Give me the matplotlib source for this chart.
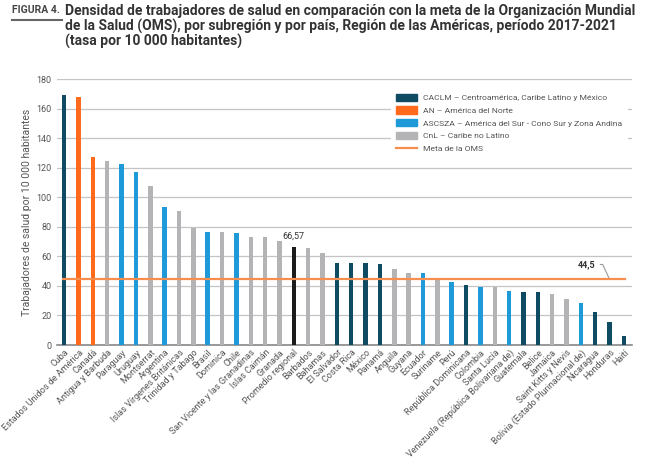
import matplotlib as mpl
mpl.use('Agg')
import matplotlib.pyplot as plt
from matplotlib.patches import Patch
from matplotlib.lines import Line2D

plt.rcParams['font.family'] = ['Roboto', 'DejaVu Sans']

countries = [
    "Cuba", "Estados Unidos de América", "Canadá", "Antigua y Barbuda", "Paraguay",
    "Uruguay", "Montserrat", "Argentina", "Islas Vírgenes Británicas", "Trinidad y Tabago",
    "Brasil", "Dominica", "Chile", "San Vicente y las Granadinas", "Islas Caimán",
    "Granada", "Promedio regional", "Barbados", "Bahamas", "El Salvador",
    "Costa Rica", "México", "Panamá", "Anguila", "Guyana",
    "Ecuador", "Suriname", "Perú", "República Dominicana", "Colombia",
    "Santa Lucía", "Venezuela (República Bolivariana de)", "Guatemala", "Belice", "Jamaica",
    "Saint Kitts y Nevis", "Bolivia (Estado Plurinacional de)", "Nicaragua", "Honduras", "Haití",
]
values = [
    169.5, 167.5, 127.5, 124.5, 122.5,
    117.0, 107.8, 93.5, 90.8, 79.5,
    76.5, 76.5, 75.8, 73.3, 73.3,
    70.7, 66.57, 65.4, 62.2, 55.7,
    55.7, 55.7, 55.0, 51.6, 49.0,
    48.4, 44.1, 42.5, 40.6, 39.4,
    39.4, 36.8, 36.0, 36.0, 34.6,
    30.9, 28.7, 22.2, 15.6, 6.3,
]
subregions = [
    "CACLM", "AN", "AN", "CnL", "ASCSZA",
    "ASCSZA", "CnL", "ASCSZA", "CnL", "CnL",
    "ASCSZA", "CnL", "ASCSZA", "CnL", "CnL",
    "CnL", "PR", "CnL", "CnL", "CACLM",
    "CACLM", "CACLM", "CACLM", "CnL", "CnL",
    "ASCSZA", "CnL", "ASCSZA", "CACLM", "ASCSZA",
    "CnL", "ASCSZA", "CACLM", "CACLM", "CnL",
    "CnL", "ASCSZA", "CACLM", "CACLM", "CACLM",
]
oms_goal = 44.5

colors = {
    "CACLM": "#0f4c63",
    "AN": "#ff6a1c",
    "ASCSZA": "#1f9ad8",
    "CnL": "#b4b4b6",
    "PR": "#1c1c1c",
}
legend_labels = [
    ("CACLM", "CACLM – Centroamérica, Caribe Latino y México"),
    ("AN", "AN – América del Norte"),
    ("ASCSZA", "ASCSZA – América del Sur - Cono Sur y Zona Andina"),
    ("CnL", "CnL – Caribe no Latino"),
]
txt_gray = "#555555"

fig = plt.figure(figsize=(6.5, 4.58), dpi=100)
ax = fig.add_axes([0.0877, 0.2467, 0.8843, 0.5808])

x = list(range(len(countries)))
ax.bar(x, values, width=0.31, color=[colors[s] for s in subregions], zorder=3)
ax.plot([-0.05, 39.05], [oms_goal, oms_goal], color="#f78d4f", lw=1.6, zorder=4)

ax.set_xlim(-0.5, 39.55)
ax.set_ylim(0, 180)
ax.set_yticks(range(0, 181, 20))
ax.grid(axis="y", color="#c4c4c4", lw=0.9, zorder=0)
for s in ["top", "right", "left"]:
    ax.spines[s].set_visible(False)
ax.spines["bottom"].set_color("#888888")
ax.spines["bottom"].set_linewidth(1.2)
ax.tick_params(axis="y", length=0, labelsize=6.5, labelcolor=txt_gray, pad=4)
ax.tick_params(axis="x", length=0, labelsize=6.5, labelcolor=txt_gray, pad=2)
ax.set_xticks(x)
ax.set_xticklabels(countries, rotation=45, ha="right", rotation_mode="anchor")
ax.set_ylabel("Trabajadores de salud por 10 000 habitantes", fontsize=7.5,
              color=txt_gray, labelpad=3)

# regional average label
i_pr = subregions.index("PR")
ax.annotate("66,57", (i_pr, values[i_pr]), xytext=(0, 4), textcoords="offset points",
            ha="center", va="bottom", fontsize=6.5, color="#333333")

# goal label with leader line
ax.annotate("44,5", xy=(38.0, oms_goal), xytext=(36.4, 54.5), fontsize=6.5,
            fontweight="bold", color="#333333", ha="center", va="center",
            arrowprops=dict(arrowstyle="-", color="#999999", lw=0.8,
                            connectionstyle="angle,angleA=0,angleB=115,rad=0",
                            relpos=(1.0, 0.5), shrinkA=1.5, shrinkB=0))

handles = [Patch(color=colors[k]) for k, _ in legend_labels]
handles.append(Line2D([0], [0], color="#f78d4f", lw=1.6))
labels = [l for _, l in legend_labels] + ["Meta de la OMS"]
leg = ax.legend(handles, labels, loc="upper right", bbox_to_anchor=(1.0, 0.98),
                fontsize=6.1, frameon=True, facecolor="white", edgecolor="none",
                framealpha=1, handlelength=2.4, handleheight=0.95,
                labelspacing=0.6, borderpad=0.6, handletextpad=0.8)
for t in leg.get_texts():
    t.set_color(txt_gray)
leg.set_zorder(5)

# title
fig.text(0.018, 0.988, "FIGURA 4.", fontsize=7.5, fontweight="bold", color="#444444",
         va="top")
fig.add_artist(Line2D([0.018, 0.095], [0.957, 0.957], color="#666666", lw=1.5))
fig.text(0.1, 0.991,
         "Densidad de trabajadores de salud en comparación con la meta de la Organización Mundial\n"
         "de la Salud (OMS), por subregión y por país, Región de las Américas, período 2017-2021\n"
         "(tasa por 10 000 habitantes)",
         fontsize=10, fontweight="bold", color="#333333", va="top", linespacing=1.03)

fig.savefig("out.png", dpi=100)
